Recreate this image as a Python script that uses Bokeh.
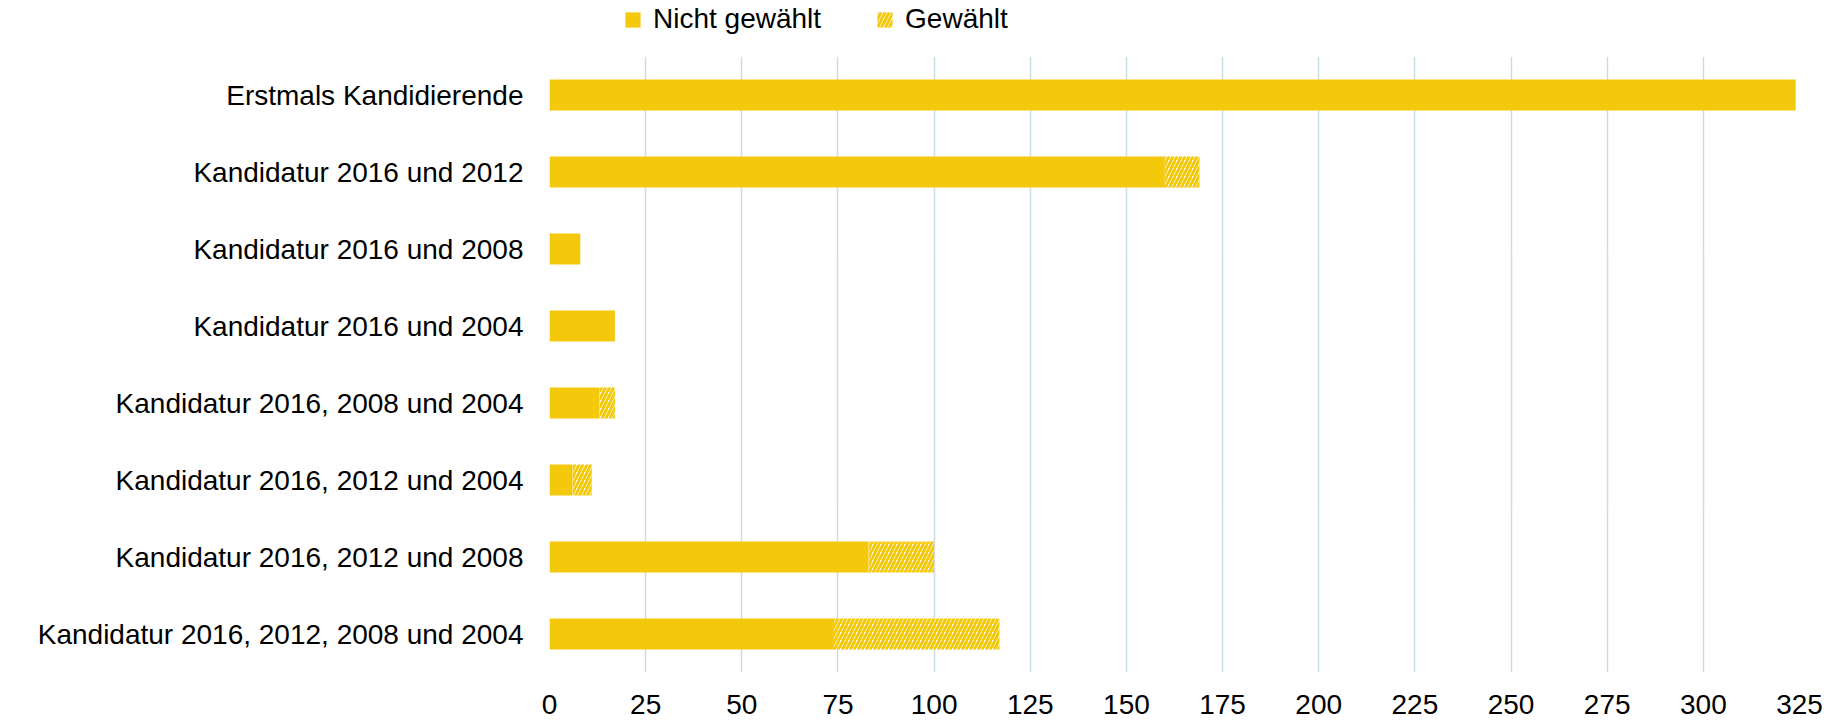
from bokeh.plotting import figure
from bokeh.layouts import column
from bokeh.models import FactorRange, Range1d, FixedTicker, Legend, LegendItem, ColumnDataSource
from bokeh.embed import file_html
from bokeh.resources import INLINE

categories = [
    "Erstmals Kandidierende",
    "Kandidatur 2016 und 2012",
    "Kandidatur 2016 und 2008",
    "Kandidatur 2016 und 2004",
    "Kandidatur 2016, 2008 und 2004",
    "Kandidatur 2016, 2012 und 2004",
    "Kandidatur 2016, 2012 und 2008",
    "Kandidatur 2016, 2012, 2008 und 2004",
]
nicht_gewaehlt = [324, 160, 8, 17, 13, 6, 83, 74]
gewaehlt = [0, 9, 0, 0, 4, 5, 17, 43]
series_labels = ["Nicht gewählt", "Gewählt"]
x_ticks = [0, 25, 50, 75, 100, 125, 150, 175, 200, 225, 250, 275, 300, 325]

YELLOW = "#F4C90C"
FONT = "Liberation Sans"
FS = "28px"
HATCH = dict(hatch_color=YELLOW, hatch_scale=8, hatch_weight=3)
STACK_STYLE = dict(fill_color=[YELLOW, "white"], line_color=None, hatch_pattern=[" ", "/"], **HATCH)

src = ColumnDataSource(dict(cat=categories, nicht=nicht_gewaehlt, gew=gewaehlt))

# ---- legend strip (top); its bars have no height and lie outside its x range ----
top = figure(
    width=1845, height=48, x_range=Range1d(-2, -1),
    y_range=FactorRange(*list(reversed(categories))),
    x_axis_type=None, y_axis_type=None,
    output_backend="svg", toolbar_location=None,
    min_border_left=0, min_border_right=0, min_border_top=0, min_border_bottom=0,
)
top.outline_line_color = None
top.grid.visible = False
lr = top.hbar_stack(["nicht", "gew"], y="cat", height=0, source=src, **STACK_STYLE)
legend = Legend(
    items=[LegendItem(label=series_labels[0], renderers=[lr[0]]),
           LegendItem(label=series_labels[1], renderers=[lr[1]])],
    orientation="horizontal", location=(74, 13),
    label_text_font=FONT, label_text_font_size=FS, label_text_color="#000000",
    glyph_width=19, glyph_height=19, label_standoff=11, spacing=54,
    padding=0, margin=0, border_line_alpha=0, background_fill_alpha=0,
    label_height=28,
)
top.add_layout(legend, "center")

# ---- main chart ----
p = figure(
    width=1845, height=672,
    y_range=FactorRange(*list(reversed(categories))),
    x_range=Range1d(0, 325),
    output_backend="svg", toolbar_location=None,
    min_border_left=549, min_border_right=46, min_border_top=8, min_border_bottom=48,
)

p.hbar_stack(["nicht", "gew"], y="cat", height=0.4, source=src, **STACK_STYLE)

p.outline_line_color = None
p.ygrid.grid_line_color = None
p.xgrid.grid_line_color = "#CCDCE4"
p.xgrid.grid_line_width = 1.5
p.xaxis.ticker = FixedTicker(ticks=x_ticks)

for ax in (p.xaxis[0], p.yaxis[0]):
    ax.axis_line_color = None
    ax.major_tick_line_color = None
    ax.minor_tick_line_color = None
    ax.major_label_text_font = FONT
    ax.major_label_text_font_size = FS
    ax.major_label_text_color = "#000000"

p.xaxis.major_label_standoff = 16
p.yaxis.major_label_standoff = 20

layout = column(top, p, spacing=0)
open("out.html", "w").write(file_html(layout, INLINE))
